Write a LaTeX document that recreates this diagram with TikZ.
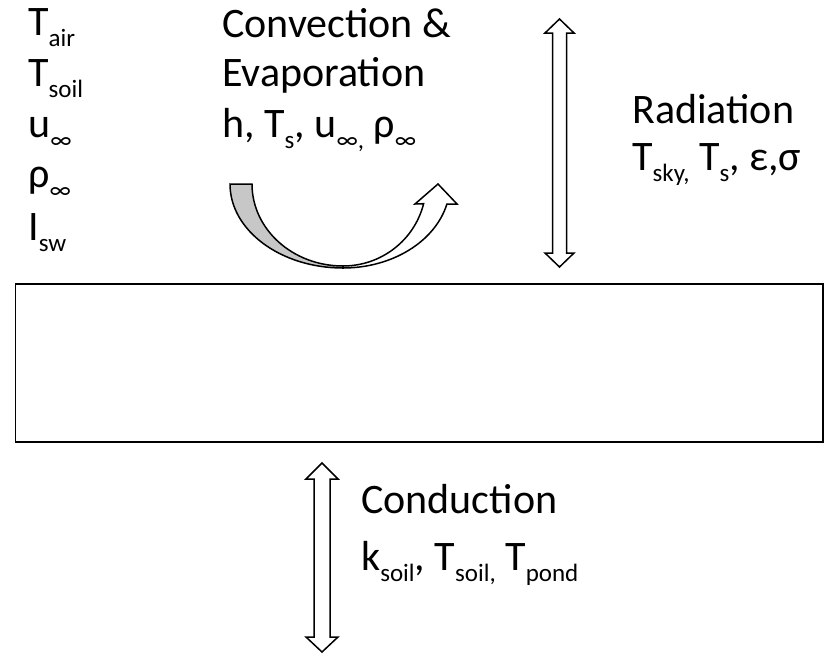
\documentclass[tikz,border=0pt]{standalone}
\usepackage{fontspec}
\setmainfont{Carlito}
\newcommand{\lowtxt}[1]{\raisebox{-11pt}{\fontsize{25}{25}\selectfont #1}}
\tikzset{
  lbl/.style={font=\fontsize{42}{50}\selectfont, inner sep=0pt, anchor=base west},
  outline/.style={draw=black, line width=1.5pt, line join=miter},
  pondbox/.style={draw=black, line width=1.8pt}
}
\begin{document}
\begin{tikzpicture}[x=1pt,y=-1pt]
\useasboundingbox (0,0) rectangle (828,654);
% surface box
\draw[pondbox] (15.5,284) rectangle (823,442);
% left column
\node[lbl] (tair)  at (28,35)  {T\lowtxt{air}};
\node[lbl] (tsoil) at (28,86)  {T\lowtxt{soil}};
\node[lbl] (uinf)  at (28,137) {u\lowtxt{∞}};
\node[lbl] (rho)   at (28,187) {ρ\lowtxt{∞}};
\node[lbl] (isw)   at (28,240) {I\lowtxt{sw}};
% convection
\node[lbl] (conv1) at (222,37)  {Convection \&};
\node[lbl] (conv2) at (222,86)  {Evaporation};
\node[lbl] (conv3) at (222,137) {h, T\lowtxt{s}, u\lowtxt{∞,} ρ\lowtxt{∞}};
% radiation
\node[lbl] (rad1) at (632,123) {Radiation};
\node[lbl] (rad2) at (632,170) {T\lowtxt{sky,} T\lowtxt{s}, ε,σ};
% conduction
\node[lbl] (cond1) at (361,513) {Conduction};
\node[lbl] (cond2) at (361,570) {k\lowtxt{soil}, T\lowtxt{soil,} T\lowtxt{pond}};
% radiation double arrow
\draw[outline, fill=white]
  (559.5,19) -- (574,33) -- (566.5,33) -- (566.5,253) -- (574,253)
  -- (559.5,267) -- (545,253) -- (552.5,253) -- (552.5,33) -- (545,33) -- cycle;
% conduction double arrow
\draw[outline, fill=white]
  (322,463) -- (338,479) -- (330,479) -- (330,637) -- (338,637)
  -- (322,652) -- (306,637) -- (314,637) -- (314,479) -- (306,479) -- cycle;
% curved arrow: white rising part
\draw[outline, fill=white]
  (343,268) arc[start angle=-90, end angle=-13.8, x radius=107pt, y radius=84pt]
  -- (457,204) -- (438,184) -- (415,204) -- (423.6,203.7)
  arc[start angle=-13.9, end angle=-90, x radius=83pt, y radius=82pt] -- cycle;
% curved arrow: grey tail
\draw[outline, fill=black!22]
  (230,184) -- (252,184) .. controls (252,229.3) and (292.7,266) .. (343,266)
  -- (343,268) .. controls (280.6,268) and (230,230.4) .. (230,184) -- cycle;
\end{tikzpicture}
\end{document}
